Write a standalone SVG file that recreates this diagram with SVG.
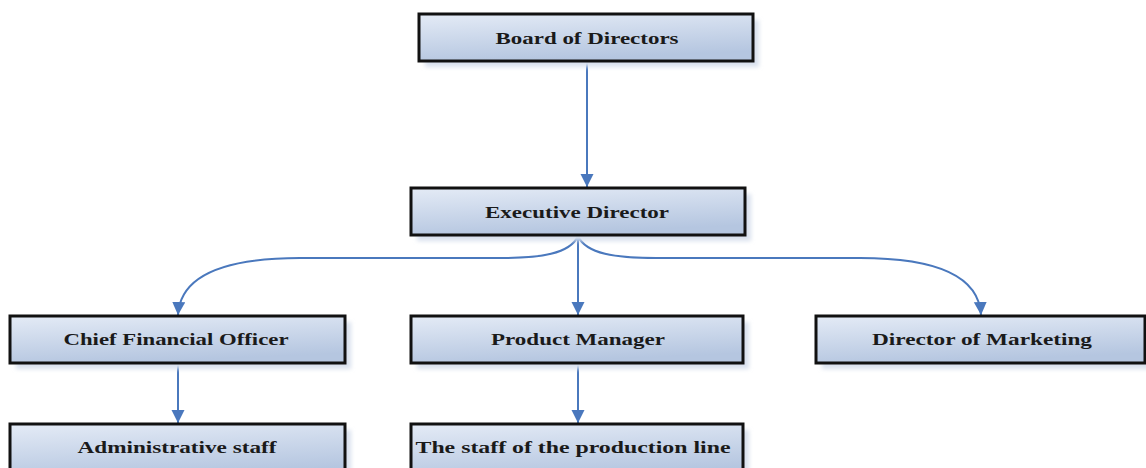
<svg xmlns="http://www.w3.org/2000/svg" width="1146" height="468" viewBox="0 0 1146 468">
  <defs>
    <linearGradient id="boxFill" x1="0" y1="0" x2="0.3" y2="1">
      <stop offset="0" stop-color="#e4ebf6"/>
      <stop offset="1" stop-color="#b5c6e0"/>
    </linearGradient>
    <filter id="soft" x="-10%" y="-30%" width="120%" height="160%">
      <feGaussianBlur stdDeviation="2"/>
    </filter>
    <marker id="arrow" markerWidth="16" markerHeight="16" refX="13" refY="6.5" orient="auto" markerUnits="userSpaceOnUse">
      <path d="M0,0 L13,6.5 L0,13 Z" fill="#4a78bd"/>
    </marker>
  </defs>
  <style>
    .shadow { fill: #d9e1ee; filter: url(#soft); }
    .box { fill: url(#boxFill); stroke: #111; stroke-width: 3; }
    .label { font-family: "Liberation Serif", "Times New Roman", serif; font-weight: bold; font-size: 17px; fill: #1a1a1a; text-anchor: middle; }
    .link { fill: none; stroke: #4a78bd; stroke-width: 2; marker-end: url(#arrow); }
  </style>
  <rect width="1146" height="468" fill="#ffffff"/>

  <g id="connectors">
    <path class="link" d="M587,62 L587,187"/>
    <path class="link" d="M578,236 L578,315"/>
    <path class="link" d="M578,236 C570,254 540,258 500,258 L300,258 C220,258 180,278 178,315"/>
    <path class="link" d="M578,236 C586,254 616,258 656,258 L860,258 C940,258 979,278 981,315"/>
    <path class="link" d="M178,364 L178,423"/>
    <path class="link" d="M578,364 L578,423"/>
  </g>

  <g id="board">
    <rect class="shadow" x="425" y="20" width="334" height="47"/>
    <rect class="box" x="419" y="14" width="334" height="47"/>
    <text class="label" x="587" y="44" textLength="183" lengthAdjust="spacingAndGlyphs">Board of Directors</text>
  </g>

  <g id="executive">
    <rect class="shadow" x="417" y="194" width="334" height="47"/>
    <rect class="box" x="411" y="188" width="334" height="47"/>
    <text class="label" x="577" y="218" textLength="184" lengthAdjust="spacingAndGlyphs">Executive Director</text>
  </g>

  <g id="cfo">
    <rect class="shadow" x="16" y="322" width="335" height="47"/>
    <rect class="box" x="10" y="316" width="335" height="47"/>
    <text class="label" x="176" y="345" textLength="225" lengthAdjust="spacingAndGlyphs">Chief Financial Officer</text>
  </g>

  <g id="product-manager">
    <rect class="shadow" x="417" y="322" width="332" height="47"/>
    <rect class="box" x="411" y="316" width="332" height="47"/>
    <text class="label" x="578" y="345" textLength="174" lengthAdjust="spacingAndGlyphs">Product Manager</text>
  </g>

  <g id="marketing">
    <rect class="shadow" x="822" y="322" width="330" height="47"/>
    <rect class="box" x="816" y="316" width="329" height="47"/>
    <text class="label" x="982" y="345" textLength="220" lengthAdjust="spacingAndGlyphs">Director of Marketing</text>
  </g>

  <g id="admin-staff">
    <rect class="shadow" x="16" y="430" width="335" height="50"/>
    <rect class="box" x="10" y="424" width="335" height="54"/>
    <text class="label" x="177" y="453" textLength="199" lengthAdjust="spacingAndGlyphs">Administrative staff</text>
  </g>

  <g id="production-staff">
    <rect class="shadow" x="417" y="430" width="332" height="50"/>
    <rect class="box" x="411" y="424" width="332" height="54"/>
    <text class="label" x="573" y="453" textLength="315" lengthAdjust="spacingAndGlyphs">The staff of the production line</text>
  </g>
</svg>
